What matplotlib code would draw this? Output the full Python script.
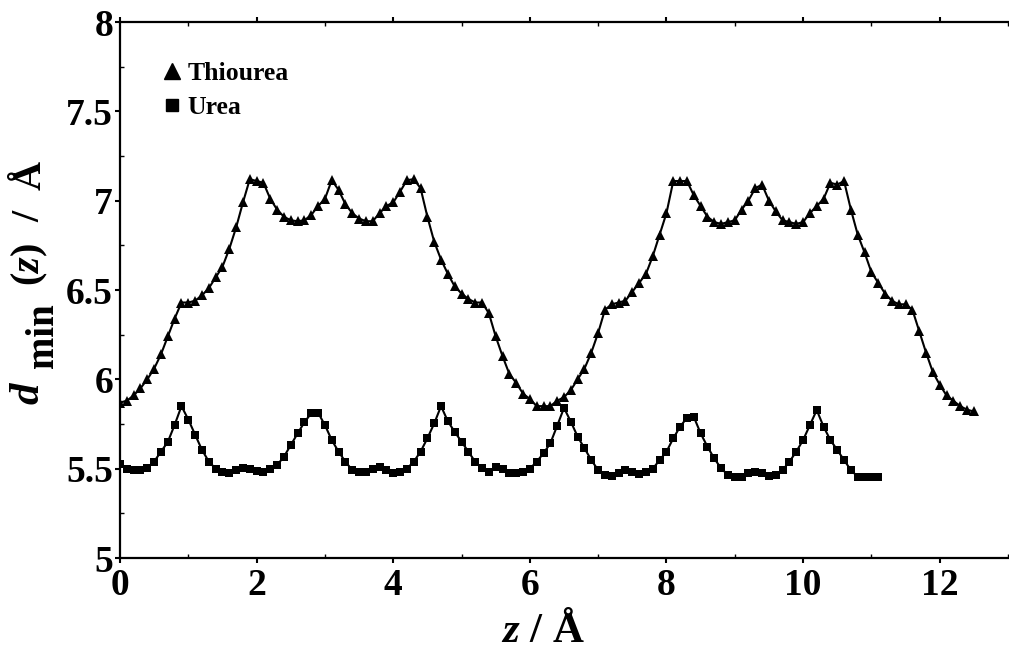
import numpy as np
import matplotlib
matplotlib.use("Agg")
import matplotlib.pyplot as plt
from matplotlib.lines import Line2D
from matplotlib.ticker import MultipleLocator, FuncFormatter

# d_min(z) sampled every 0.1 Angstrom along the channel
z_step = 0.1

thiourea_d = [
    5.87, 5.88, 5.91, 5.95, 6.00, 6.06, 6.14, 6.24, 6.34, 6.43,
    6.43, 6.44, 6.47, 6.51, 6.57, 6.63, 6.73, 6.85, 6.99, 7.12,
    7.11, 7.10, 7.01, 6.95, 6.91, 6.89, 6.885, 6.89, 6.92, 6.97,
    7.01, 7.115, 7.06, 6.98, 6.93, 6.90, 6.885, 6.885, 6.93, 6.97,
    6.99, 7.05, 7.115, 7.12, 7.07, 6.91, 6.77, 6.67, 6.59, 6.52,
    6.48, 6.45, 6.43, 6.43, 6.37, 6.24, 6.13, 6.03, 5.98, 5.92,
    5.89, 5.85, 5.85, 5.85, 5.88, 5.90, 5.94, 6.00, 6.06, 6.15,
    6.26, 6.39, 6.42, 6.43, 6.44, 6.49, 6.54, 6.59, 6.69, 6.81,
    6.93, 7.11, 7.11, 7.11, 7.03, 6.97, 6.91, 6.88, 6.87, 6.88,
    6.89, 6.95, 7.00, 7.07, 7.09, 7.00, 6.94, 6.89, 6.88, 6.87,
    6.88, 6.93, 6.97, 7.01, 7.10, 7.09, 7.11, 6.95, 6.81, 6.71,
    6.60, 6.54, 6.48, 6.44, 6.42, 6.42, 6.39, 6.27, 6.15, 6.04,
    5.97, 5.91, 5.88, 5.85, 5.83, 5.82,
]

urea_d = [
    5.525, 5.50, 5.49, 5.49, 5.505, 5.54, 5.595, 5.65, 5.745, 5.85,
    5.775, 5.69, 5.605, 5.54, 5.50, 5.483, 5.477, 5.49, 5.505, 5.50,
    5.485, 5.483, 5.496, 5.52, 5.567, 5.632, 5.697, 5.76, 5.81, 5.813,
    5.744, 5.66, 5.595, 5.539, 5.492, 5.483, 5.483, 5.496, 5.507, 5.492,
    5.477, 5.483, 5.50, 5.539, 5.595, 5.67, 5.753, 5.85, 5.765, 5.706,
    5.651, 5.595, 5.539, 5.502, 5.483, 5.51, 5.50, 5.477, 5.477, 5.483,
    5.50, 5.539, 5.586, 5.642, 5.74, 5.84, 5.763, 5.679, 5.614, 5.548,
    5.492, 5.465, 5.46, 5.474, 5.492, 5.483, 5.472, 5.483, 5.50, 5.548,
    5.595, 5.67, 5.735, 5.785, 5.79, 5.698, 5.623, 5.557, 5.502, 5.465,
    5.452, 5.455, 5.474, 5.483, 5.474, 5.46, 5.465, 5.492, 5.539, 5.595,
    5.66, 5.744, 5.828, 5.735, 5.66, 5.605, 5.548, 5.492, 5.455, 5.452,
    5.452, 5.452,
]

labels = ["Thiourea", "Urea"]
x_ticks = [0, 2, 4, 6, 8, 10, 12]
y_ticks = [5, 5.5, 6, 6.5, 7, 7.5, 8]

thiourea_z = np.arange(len(thiourea_d)) * z_step
urea_z = np.arange(len(urea_d)) * z_step

plt.rcParams["font.family"] = "Liberation Serif"
plt.rcParams["font.weight"] = "bold"
plt.rcParams["mathtext.fontset"] = "custom"
plt.rcParams["mathtext.rm"] = "Liberation Serif:weight=bold"
plt.rcParams["mathtext.it"] = "Liberation Serif:style=italic:weight=bold"
plt.rcParams["mathtext.bf"] = "Liberation Serif:weight=bold"

W, H = 1009, 656
fig = plt.figure(figsize=(W / 100, H / 100), dpi=100)
ax = fig.add_axes([120 / W, 98 / H, 888 / W, 536 / H])

ax.plot(thiourea_z, thiourea_d, color="black", lw=1.5, marker="^", ms=6.5,
        markeredgewidth=0)
ax.plot(urea_z, urea_d, color="black", lw=1.5, marker="s", ms=6,
        markeredgewidth=0)

ax.set_xlim(0, 13)
ax.set_ylim(5, 8)
ax.set_xticks(x_ticks)
ax.set_yticks(y_ticks)
ax.yaxis.set_major_formatter(FuncFormatter(lambda v, p: "{:g}".format(v)))
ax.xaxis.set_minor_locator(MultipleLocator(1))
ax.yaxis.set_minor_locator(MultipleLocator(0.25))
ax.tick_params(axis="both", which="major", direction="out", length=3.5,
               width=1.5, labelsize=27)
ax.tick_params(axis="y", which="major", pad=1.5)
ax.tick_params(axis="x", which="major", pad=4)
ax.tick_params(axis="both", which="minor", direction="in", length=3, width=1)
ax.tick_params(axis="x", which="both", top=True)

for s in ax.spines.values():
    s.set_linewidth(1.6)
ax.spines["right"].set_visible(False)

# axis titles (y title built piece by piece, subscript is nearly full size)
fig.text(543 / W, 1 - 632 / H, r"$z$ / Å", fontsize=31, ha="center", va="center")
ylab_parts = [
    (r"$d$", 29, 393, 31),
    ("min", 44, 336, 28),
    (r"$(z)$", 30, 265, 29),
    ("/", 30, 216, 29),
    ("Å", 31, 175, 29),
]
for txt, px, py, fs in ylab_parts:
    fig.text(px / W, 1 - py / H, txt, fontsize=fs, rotation=90,
             ha="center", va="center")

handles = [
    Line2D([], [], ls="none", marker="^", ms=11, color="black"),
    Line2D([], [], ls="none", marker="s", ms=9, color="black"),
]
ax.legend(handles, labels, loc="upper left", bbox_to_anchor=(0.047, 0.925),
          frameon=False, handlelength=0.8, handletextpad=0.2,
          labelspacing=0.42, borderaxespad=0, borderpad=0,
          prop={"family": "Liberation Serif", "weight": "bold", "size": 18.5})

plt.savefig("out.png", dpi=100)
